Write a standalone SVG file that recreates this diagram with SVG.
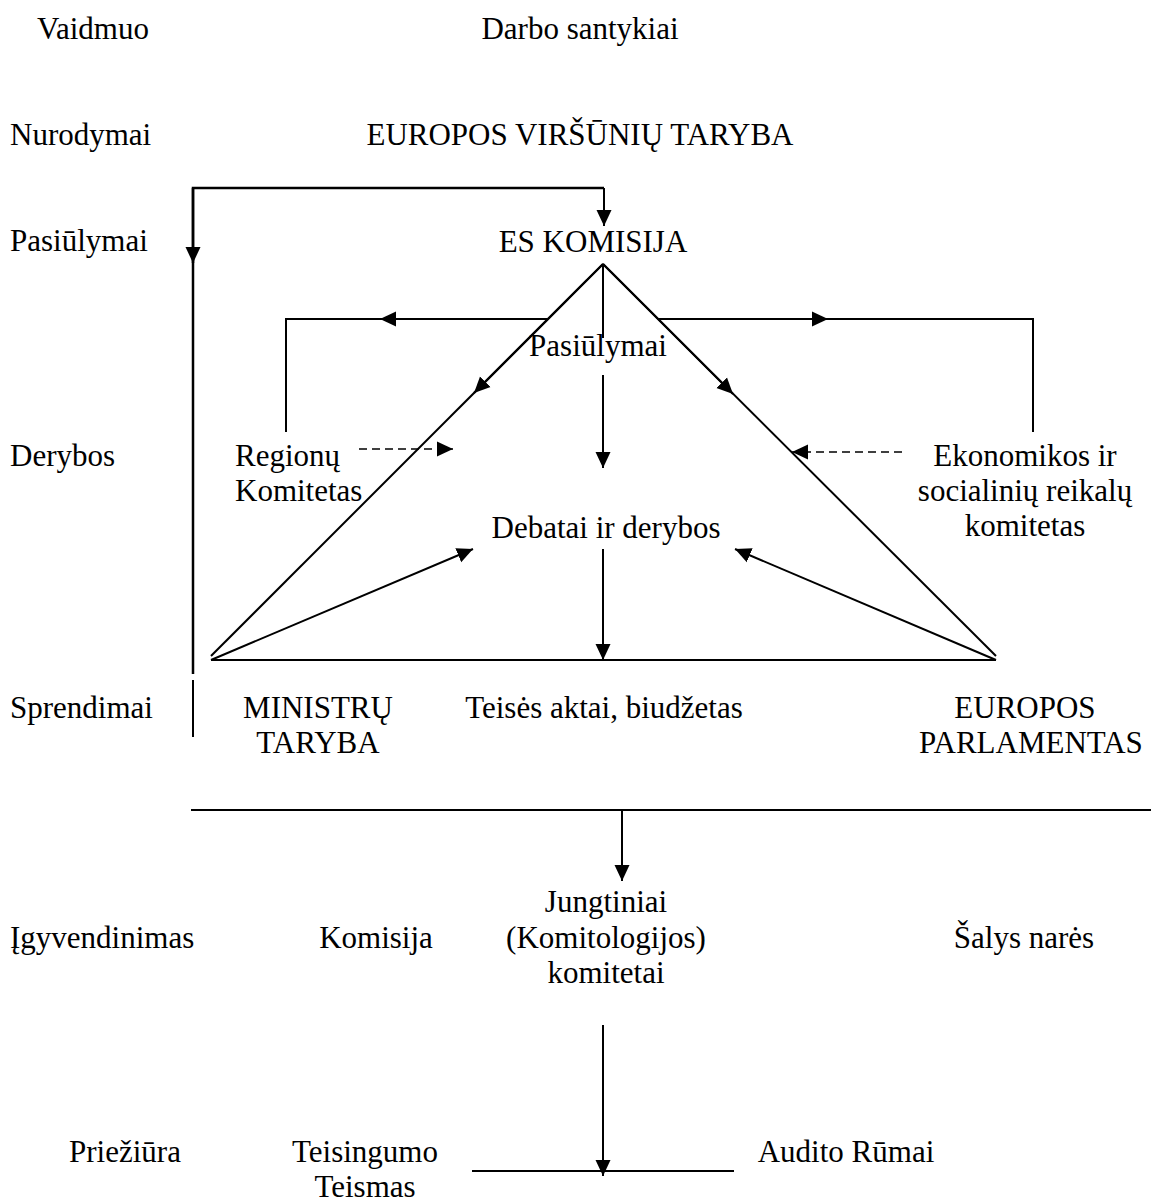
<svg xmlns="http://www.w3.org/2000/svg" width="1151" height="1202" viewBox="0 0 1151 1202">
<style>
text{font-family:"Liberation Serif","Times New Roman",serif;font-size:31px;fill:#000}
.c{text-anchor:middle}
.ln{stroke:#000;stroke-width:2;fill:none}
.bk{stroke:#000;stroke-width:2.5;fill:none}
.ds{stroke:#000;stroke-width:1.6;fill:none;stroke-dasharray:8 5}
</style>
<defs>
<marker id="ah" markerUnits="userSpaceOnUse" markerWidth="17" markerHeight="16" refX="16" refY="8" orient="auto">
<path d="M0,0.5 L16,8 L0,15.5 z" fill="#000"/>
</marker>
</defs>
<rect width="1151" height="1202" fill="#fff"/>
<g id="labels">
<text x="93" y="39" class="c">Vaidmuo</text>
<text x="580" y="39" class="c">Darbo santykiai</text>
<text x="10" y="145">Nurodymai</text>
<text x="10" y="251">Pasiūlymai</text>
<text x="10" y="466">Derybos</text>
<text x="10" y="718">Sprendimai</text>
<text x="10" y="948">Įgyvendinimas</text>
<text x="125" y="1162" class="c">Priežiūra</text>
</g>
<g id="n-europos-virsuniu"><text x="580" y="145" class="c">EUROPOS VIRŠŪNIŲ TARYBA</text></g>
<g id="n-es-komisija"><text x="593" y="252" class="c">ES KOMISIJA</text></g>
<g id="n-pasiulymai"><text x="598" y="356" class="c">Pasiūlymai</text></g>
<g id="n-regionu"><text x="235" y="466">Regionų</text><text x="235" y="501">Komitetas</text></g>
<g id="n-ekonomikos"><text x="1025" y="466" class="c">Ekonomikos ir</text><text x="1025" y="501" class="c">socialinių reikalų</text><text x="1025" y="536" class="c">komitetas</text></g>
<g id="n-debatai"><text x="606" y="538" class="c">Debatai ir derybos</text></g>
<g id="n-ministru"><text x="318" y="718" class="c">MINISTRŲ</text><text x="318" y="753" class="c">TARYBA</text></g>
<g id="n-teises"><text x="604" y="718" class="c">Teisės aktai, biudžetas</text></g>
<g id="n-parlamentas"><text x="1025" y="718" class="c">EUROPOS</text><text x="1031" y="753" class="c">PARLAMENTAS</text></g>
<g id="n-komisija"><text x="376" y="948" class="c">Komisija</text></g>
<g id="n-jungtiniai"><text x="606" y="912" class="c">Jungtiniai</text><text x="606" y="948" class="c">(Komitologijos)</text><text x="606" y="983" class="c">komitetai</text></g>
<g id="n-salys"><text x="1024" y="948" class="c">Šalys narės</text></g>
<g id="n-teisingumo"><text x="365" y="1162" class="c">Teisingumo</text><text x="365" y="1197" class="c">Teismas</text></g>
<g id="n-audito"><text x="846" y="1162" class="c">Audito Rūmai</text></g>
<g id="connectors">
<!-- top bracket -->
<polyline class="bk" points="604,188 193,188 193,674"/>
<line class="bk" x1="193" y1="188" x2="193" y2="263" marker-end="url(#ah)"/>
<line class="ln" x1="604" y1="188" x2="604" y2="226" marker-end="url(#ah)"/>
<line class="ln" x1="193" y1="680" x2="193" y2="737"/>
<!-- triangle -->
<line class="ln" x1="603" y1="264" x2="211" y2="656"/>
<line class="ln" x1="603" y1="264" x2="996" y2="656"/>
<line class="ln" x1="603" y1="264" x2="474" y2="393" marker-end="url(#ah)"/>
<line class="ln" x1="603" y1="264" x2="733" y2="394" marker-end="url(#ah)"/>
<line class="ln" x1="211" y1="660" x2="996" y2="660"/>
<!-- apex vertical -->
<line class="ln" x1="603" y1="264" x2="603" y2="338"/>
<line class="ln" x1="603" y1="375" x2="603" y2="468" marker-end="url(#ah)"/>
<!-- side branches -->
<polyline class="ln" points="381,319 286,319 286,432"/>
<line class="ln" x1="548" y1="319" x2="380" y2="319" marker-end="url(#ah)"/>
<polyline class="ln" points="827,319 1033,319 1033,432"/>
<line class="ln" x1="658" y1="319" x2="828" y2="319" marker-end="url(#ah)"/>
<!-- dashed -->
<line class="ds" x1="359" y1="449" x2="453" y2="449" marker-end="url(#ah)"/>
<line class="ds" x1="902" y1="452" x2="792" y2="452" marker-end="url(#ah)"/>
<!-- to debatai -->
<line class="ln" x1="211" y1="660" x2="473" y2="549" marker-end="url(#ah)"/>
<line class="ln" x1="996" y1="660" x2="735" y2="549" marker-end="url(#ah)"/>
<line class="ln" x1="603" y1="549" x2="603" y2="660" marker-end="url(#ah)"/>
<!-- lower -->
<line class="ln" x1="191" y1="810" x2="1151" y2="810"/>
<line class="ln" x1="622" y1="810" x2="622" y2="881" marker-end="url(#ah)"/>
<line class="ln" x1="603" y1="1025" x2="603" y2="1176" marker-end="url(#ah)"/>
<line class="ln" x1="472" y1="1171" x2="734" y2="1171"/>
</g>
</svg>
